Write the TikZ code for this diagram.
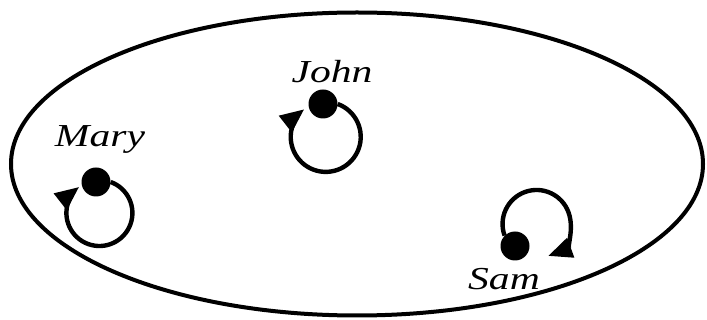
\documentclass[tikz,border=0pt]{standalone}
\usepackage{fontspec}
\setmainfont{Liberation Serif}
\usepackage{tikz}
\usetikzlibrary{shapes.geometric, arrows.meta, positioning}

\begin{document}
\begin{tikzpicture}[
        x=1pt, y=-1pt,
        world/.style={draw, ellipse, line width=4pt, inner sep=0pt},
        dot/.style={fill, circle, minimum size=29pt, inner sep=0pt},
        lbl/.style={font=\fontsize{32}{36}\selectfont\itshape, anchor=base, inner sep=0pt},
        loop/.style={-{Triangle[length=24pt, width=20pt]}, line width=4.4pt}
        ]
        \useasboundingbox (0,0) rectangle (707,320);
        \node[world, minimum width=692pt, minimum height=303pt] (W) at (357,164) {};
        \node[dot] (mary) at (96,182) {};
        \node[dot] (john) at (323,104) {};
        \node[dot] (sam) at (515,246) {};
        \node[lbl] (maryname) at (100,147) {\scalebox{1.3}[1]{Mary}};
        \node[lbl] (johnname) at (332,83) {\scalebox{1.3}[1]{John}};
        \node[lbl] (samname) at (504,290) {\scalebox{1.3}[1]{Sam}};
        \draw[loop] (mary.east) arc[start angle=-70, end angle=232, radius=33];
        \draw[loop] (john.east) arc[start angle=-70, end angle=232, radius=35];
        \draw[loop] (sam.north west) arc[start angle=160, end angle=430, radius=34];
    \end{tikzpicture}
\end{document}
